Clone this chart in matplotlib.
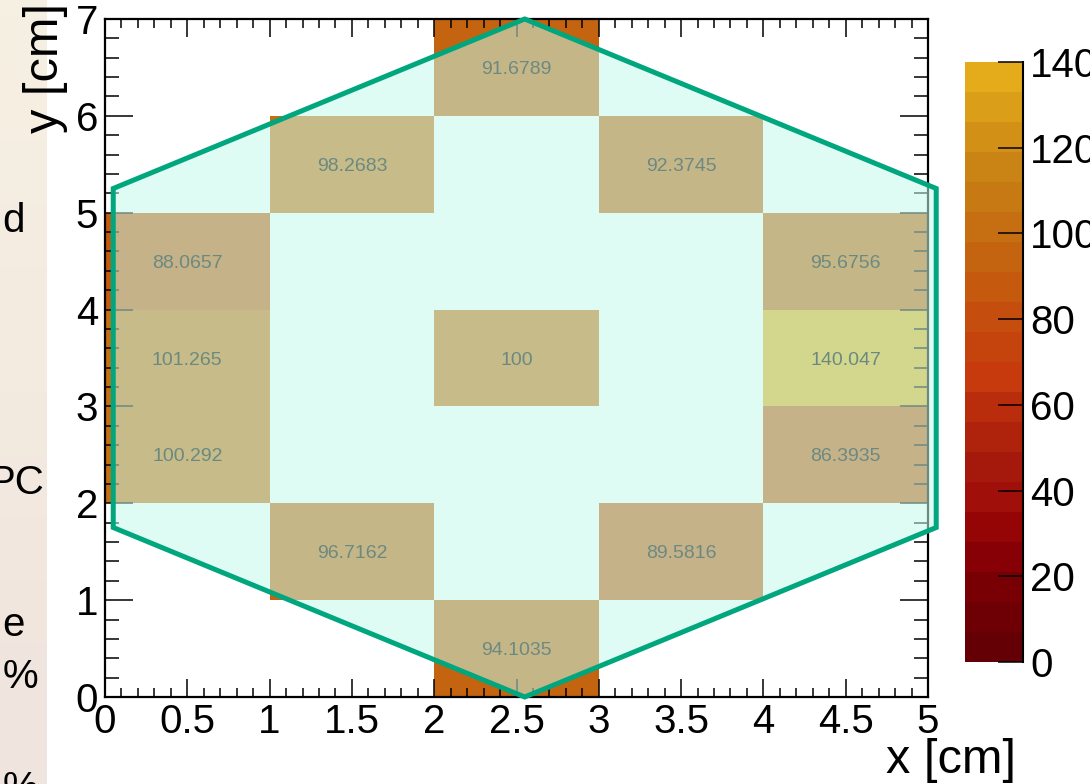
import numpy as np
import matplotlib
matplotlib.use("Agg")
import matplotlib.pyplot as plt
from matplotlib.colors import ListedColormap, Normalize
from matplotlib.patches import Polygon
from matplotlib.ticker import MultipleLocator

plt.rcParams['font.family'] = ['Liberation Sans', 'DejaVu Sans']

# bins of the map (1 cm x 1 cm)
x_edges = np.arange(0, 6)
y_edges = np.arange(0, 8)

# filled cells: column, row, relative response
cell_col = [2, 1, 3, 0, 4, 0, 2, 4, 0, 4, 1, 3, 2]
cell_row = [6, 5, 5, 4, 4, 3, 3, 3, 2, 2, 1, 1, 0]
cell_val = [91.6789, 98.2683, 92.3745, 88.0657, 95.6756, 101.265, 100,
            140.047, 100.292, 86.3935, 96.7162, 89.5816, 94.1035]

# hexagonal module outline
hex_x = [2.55, 5.05, 5.05, 2.55, 0.05, 0.05]
hex_y = [7.0, 5.25, 1.75, 0.0, 1.75, 5.25]

z_ticks = [0, 20, 40, 60, 80, 100, 120, 140]

# 20-step palette, dark red -> orange -> gold
palette = np.array([
    (100, 0, 5), (110, 0, 5), (120, 0, 5), (135, 0, 5), (150, 5, 5),
    (160, 15, 10), (165, 25, 12), (175, 35, 12), (185, 45, 12), (198, 58, 13),
    (197, 68, 14), (197, 78, 14), (197, 90, 15), (197, 100, 16), (198, 110, 18),
    (199, 122, 20), (202, 132, 21), (210, 145, 22), (218, 158, 25), (228, 172, 26),
]) / 255.0
cmap = ListedColormap(palette)
norm = Normalize(0, 140)

grid = np.zeros((len(y_edges) - 1, len(x_edges) - 1))
for c, r, v in zip(cell_col, cell_row, cell_val):
    grid[r, c] = v
grid = np.ma.masked_equal(grid, 0)

fig = plt.figure(figsize=(10.9, 7.84), dpi=100)

# strip of the slide behind the canvas
bg = fig.add_axes([0, 0, 47 / 1090, 1], zorder=-5)
shade = np.linspace(0, 1, 50)[:, None, None]
top_c = np.array([246, 240, 226]) / 255.0
bot_c = np.array([240, 228, 222]) / 255.0
bg.imshow(top_c * (1 - shade) + bot_c * shade, aspect='auto', extent=[0, 1, 0, 1])
bg.set_axis_off()

for txt, xr, yb in [('d', 25, 232), ('PC', 45, 494), ('e', 25, 636),
                    ('%', 38, 688), ('%', 38, 800)]:
    fig.text(xr / 1090, 1 - yb / 784, txt, ha='right', va='baseline', fontsize=29)

ax = fig.add_axes([105 / 1090, 1 - 697 / 784, 823 / 1090, 678 / 784])
mesh = ax.pcolormesh(x_edges, y_edges, grid, cmap=cmap, norm=norm, zorder=1)

for c, r, v in zip(cell_col, cell_row, cell_val):
    ax.text(c + 0.5, r + 0.5, f'{v:g}', ha='center', va='center_baseline',
            fontsize=14, color='black', zorder=2.2)

ax.add_patch(Polygon(np.column_stack([hex_x, hex_y]), closed=True,
                     facecolor=(198 / 255, 251 / 255, 236 / 255), alpha=0.55,
                     edgecolor='none', zorder=3.5, clip_on=False))
ax.add_patch(Polygon(np.column_stack([hex_x, hex_y]), closed=True,
                     facecolor='none', edgecolor='#00A67E', linewidth=3.6,
                     joinstyle='miter', zorder=4, clip_on=False))

ax.set_xlim(0, 5)
ax.set_ylim(0, 7)
ax.xaxis.set_minor_locator(MultipleLocator(0.1))
ax.yaxis.set_major_locator(MultipleLocator(1))
ax.yaxis.set_minor_locator(MultipleLocator(0.2))
ax.set_xticks(np.arange(0, 5.01, 0.5))
ax.set_xticklabels(['0', '0.5', '1', '1.5', '2', '2.5', '3', '3.5', '4', '4.5', '5'])
ax.tick_params(axis='both', which='both', direction='in', top=True, right=True,
               width=1.1, labelsize=29, colors='black')
ax.tick_params(axis='x', which='major', length=13, pad=4)
ax.tick_params(axis='x', which='minor', length=6.5)
ax.tick_params(axis='y', which='major', length=20, pad=5)
ax.tick_params(axis='y', which='minor', length=10)
for sp in ax.spines.values():
    sp.set_linewidth(1.6)

# axis titles placed in figure coordinates
fig.text(1016 / 1090, 1 - 738 / 784, 'x [cm]', ha='right', va='top', fontsize=35)
fig.text(46 / 1090, 1 - 3 / 784, 'y [cm]', rotation=90, ha='center', va='top',
         fontsize=35)

cax = fig.add_axes([965 / 1090, 1 - 662 / 784, 58 / 1090, 600 / 784])
cb = fig.colorbar(mesh, cax=cax)
cb.outline.set_visible(False)
cax.plot([1, 1], [0, 1], transform=cax.transAxes, color='black', lw=1.5,
         clip_on=False)
cb.set_ticks(z_ticks)
cax.tick_params(direction='in', length=18, width=1.1, labelsize=29, pad=5)

fig.savefig('out.png', dpi=100)
